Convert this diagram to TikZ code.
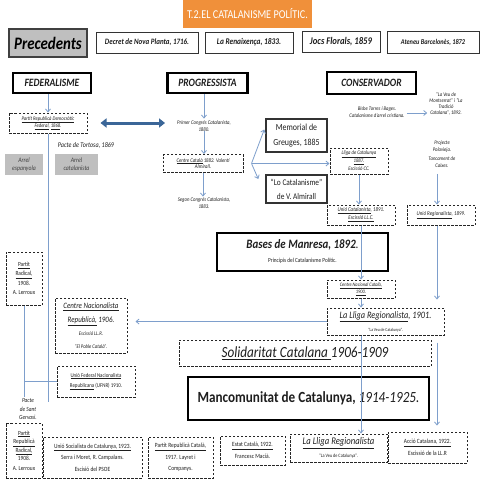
\documentclass[tikz,border=0pt]{standalone}
\usepackage{fontspec}
\setmainfont{Carlito}[FakeStretch=0.85]
\usetikzlibrary{arrows.meta,calc}
\definecolor{orng}{HTML}{F0903A}
\definecolor{arr}{HTML}{7E9FCC}
\definecolor{darr}{HTML}{3B6698}
\definecolor{gbox}{HTML}{BFBFBF}
\definecolor{tx}{HTML}{1E1E1E}
\newcommand{\fsz}[2]{\fontsize{#1}{#2}\selectfont}
\tikzset{
  base/.style={inner sep=0pt, align=center, text=tx},
  dbox/.style={base, draw=black!85, dash pattern=on 2.5pt off 1.5pt, line width=1pt, fill=white},
  tbox/.style={base, draw=black, line width=2.5pt, fill=white},
  sbox/.style={base, draw=black!80, line width=1pt, fill=white},
  mbox/.style={base, draw=black!80, line width=1.4pt, fill=white},
  graybox/.style={base, fill=gbox},
  conn/.style={draw=arr, line width=0.8pt, -{Straight Barb[length=3pt,width=5pt]}},
  plain/.style={draw=arr, line width=0.8pt},
  sz/.style n args={2}{minimum width=#1, minimum height=#2},
}
\begin{document}
\begin{tikzpicture}[x=1pt,y=-1pt]
\useasboundingbox[fill=white] (0,0) rectangle (480,480);

% top row
\node[base, fill=orng, text=white, sz={129pt}{28pt}, font=\fsz{12}{14}] (title) at (247.5,14) {T.2.EL CATALANISME POLÍTIC.};
\node[base, fill=gbox, draw=black!75, line width=1.5pt, text=black, sz={78pt}{28pt}, font=\fsz{17.5}{19}\bfseries\itshape] (prec) at (48,43) {Precedents};
\node[sbox, sz={102pt}{21pt}, font=\fsz{8.2}{9}\bfseries\itshape] (decret) at (147,42.5) {Decret de Nova Planta, 1716.};
\node[sbox, sz={88pt}{21pt}, font=\fsz{8.7}{10}\bfseries\itshape] (renaix) at (249,42.5) {La Renaixença, 1833.};
\node[sbox, sz={78pt}{21pt}, font=\fsz{10.2}{11}\bfseries\itshape] (jocs) at (341,41.5) {Jocs Florals, 1859};
\node[sbox, sz={92pt}{22pt}, font=\fsz{7.4}{8}\bfseries\itshape] (ateneu) at (433,42) {Ateneu Barcelonès, 1872};

% headers
\node[tbox, sz={78pt}{20pt}, font=\fsz{11.2}{12}\bfseries\itshape] (fed) at (52,83) {FEDERALISME};
\node[tbox, sz={80pt}{20pt}, font=\fsz{11.2}{12}\bfseries\itshape] (prog) at (207.5,83) {PROGRESSISTA};
\node[tbox, sz={89pt}{22pt}, font=\fsz{11.2}{12}\bfseries\itshape] (cons) at (371.5,83) {CONSERVADOR};

% federalisme column
\node[dbox, sz={78pt}{20pt}, font=\fsz{5.5}{6.5}\itshape] (prdf) at (48,123) {\underline{Partit Republicà Democràtic}\\\underline{Federal}, \underline{1868}.};
\node[base, font=\fsz{7.2}{8}\itshape] (tortosa) at (86,145) {Pacte de Tortosa, 1869};
\node[graybox, sz={38pt}{21pt}, font=\fsz{6.8}{8}\itshape, text=black!75] (arresp) at (24,164.5) {Arrel\\espanyola};
\node[graybox, sz={43pt}{21pt}, font=\fsz{6.8}{8}\itshape, text=black!75] (arrcat) at (76.5,164.5) {Arrel\\catalanista};

% progressista column
\node[base, font=\fsz{5.6}{6.5}\itshape] (primer) at (204,126) {Primer Congrés Catalanista,\\1880.};
\node[dbox, sz={80pt}{18pt}, font=\fsz{5.6}{6.5}\itshape] (centrecat) at (203,163.5) {\underline{Centre Català} 1882. Valentí\\Almirall.};
\node[base, font=\fsz{5.6}{6.5}\itshape] (segon) at (204,203) {Segon Congrés Catalanista,\\1883.};
\node[mbox, sz={61pt}{33pt}, font=\fsz{9.3}{13}] (memorial) at (296.5,135.5) {Memorial de\\[2pt]Greuges, 1885};
\node[mbox, sz={61pt}{28pt}, font=\fsz{8.7}{12}] (locat) at (296.5,189) {“Lo Catalanisme”\\[2pt]de V. Almirall};
\node[dbox, sz={58pt}{26pt}, font=\fsz{5.5}{7.5}\itshape] (lligacat) at (359,161) {\underline{Lliga de Catalunya}\\\underline{1887.}\\[1pt]Escissió CC.};

% conservador column
\node[base, font=\fsz{5.5}{6.5}\itshape] (bisbe) at (377,112) {Bisbe Torres i Bages.\\Catalanisme d'arrel cristiana.};
\node[base, font=\fsz{5.5}{6.2}\itshape] (laveu) at (446,104) {“La Veu de\\Montserrat” i “La\\Tradició\\Catalana”, 1892.};
\node[base, font=\fsz{5.5}{7.5}\itshape] (polav) at (442,154) {Projecte\\Polavieja.\\[1pt]Tancament de\\Caixes.};
\node[dbox, sz={68pt}{20pt}, font=\fsz{5.8}{7}\itshape] (unicat) at (361,215) {\underline{Unió Catalanista}, 1891.\\[1pt]\underline{Escissió LL.C.}};
\node[dbox, sz={68pt}{20pt}, font=\fsz{5.8}{7}\itshape] (unireg) at (441,215) {\underline{Unió Regionalista}, 1899.};

% middle
\node[tbox, sz={171pt}{38pt}] (bases) at (302.5,252) {{\fsz{12.8}{14}\bfseries\itshape Bases de Manresa, 1892}{\fsz{12.8}{14}\itshape .}\\[2pt]{\fsz{6.2}{7}Principis del Catalanisme Polític.}};
\node[dbox, sz={68pt}{18pt}, font=\fsz{5.2}{6}\itshape] (cnc) at (361,289) {\underline{Centre Nacional Català,}\\\underline{1900.}};
\node[dbox, sz={117pt}{27pt}] (lliga01) at (385.5,321.5) {{\fsz{9.8}{11}\itshape\underline{La Lliga Regionalista}, 1901.}\\[1pt]{\fsz{4.5}{6}“La Veu de Catalunya”.}};
\node[dbox, sz={252pt}{26pt}, font=\fsz{15.5}{17}\itshape] (solid) at (305,353) {\underline{Solidaritat Catalana }1906-1909};
\node[tbox, sz={241pt}{43pt}] (manc) at (308.5,398.5) {{\fsz{15.5}{17}\bfseries Mancomunitat de Catalunya, }{\fsz{15.5}{17}\itshape 1914-1925.}};

% left lower
\node[dbox, sz={36pt}{53pt}, font=\fsz{6.3}{7.5}] (prad1) at (24,278.5) {\underline{Partit}\\[2pt]\underline{Radical,}\\[2pt]1908.\\[2pt]A. Lerroux};
\node[dbox, sz={72pt}{55pt}] (cnr) at (91,325.5) {{\fsz{8.2}{10}\itshape\underline{Centre Nacionalista}}\\[2pt]{\fsz{8.2}{10}\itshape\underline{Republicà,} 1906.}\\[1pt]{\fsz{5.5}{7}\itshape Escissió LL.R.}\\[1pt]{\fsz{5.5}{7}\itshape “El Poble Català”.}};
\node[dbox, sz={78pt}{31pt}, font=\fsz{5.8}{7}] (ufnr) at (96,381.5) {\underline{Unió Federal Nacionalista}\\[3pt]\underline{Republicana} (UFNR) 1910.};
\node[base, font=\fsz{6.3}{7.5}\itshape] (pactesg) at (28,409) {Pacte\\[1pt]de Sant\\[1pt]Gervasi.};

% bottom row
\node[dbox, sz={36pt}{55pt}, font=\fsz{6.3}{7.5}] (prad2) at (24,450.5) {\underline{Partit}\\[1pt]\underline{Republicà}\\[1pt]\underline{Radical,}\\[1pt]1908.\\[2pt]A. Lerroux};
\node[dbox, sz={99pt}{41pt}, font=\fsz{6.4}{7.5}] (usc) at (92.5,457.5) {\underline{Unió Socialista de Catalunya, 1923.}\\[4pt]Serra i Moret, R. Campalans.\\[4pt]Escisió del PSOE};
\node[dbox, sz={65pt}{41pt}, font=\fsz{6.4}{7.5}] (prc) at (180.5,457.5) {\underline{Partit Republicà Català,}\\[4pt]1917. Layret i\\[4pt]Companys.};
\node[dbox, sz={65pt}{29pt}, font=\fsz{6.4}{7.5}] (estat) at (252.5,450.5) {\underline{Estat Català, 1922.}\\[4pt]Francesc Macià.};
\node[dbox, sz={97pt}{28pt}] (lliga2) at (338.5,448) {{\fsz{10.2}{12}\itshape\underline{La Lliga Regionalista}}\\[1pt]{\fsz{5}{6}“La Veu de Catalunya”.}};
\node[dbox, sz={79pt}{31pt}, font=\fsz{6.4}{7.5}] (accio) at (427.5,447.5) {\underline{Acció Catalana, 1922.}\\[4pt]Escissió de la LL.R};

% connectors
\draw[conn] (fed.south -| prdf.north) -- (prdf.north);
\draw[conn] (primer.north |- prog.south) -- ([yshift=2pt]primer.north);
\draw[conn] (primer.south) -- (primer.south |- centrecat.north);
\draw[conn] (centrecat.south) -- ([yshift=1pt]centrecat.south |- segon.north);
\draw[darr, line width=3pt, {Triangle[length=6pt,width=9pt]}-{Triangle[length=6pt,width=9pt]}, shorten <=13pt, shorten >=12pt] (prdf.east) -- (prdf.east -| primer.west);
\coordinate (fork) at ($(centrecat.east)+(8,0)$);
\draw[conn] (fork) -- ($(memorial.west)+(-1,-6)$);
\draw[conn] (fork) -- (fork -| lligacat.west);
\draw[conn] (fork) -- ($(locat.west)+(-7,-10)$);
\draw[conn] ($(bisbe.east)+(2,1)$) -- ($(bisbe.east -| laveu.west)+(-2,1)$);
\draw[conn] (lligacat.south) -- (lligacat.south |- unicat.north);
\coordinate (rx) at ($(unireg.north)+(-4,0)$);
\draw[conn] ($(rx |- polav.south)+(0,6)$) -- (rx);
\draw[conn] (unicat.south) -- (unicat.south |- cnc.north);
\draw[conn] (cnc.south) -- (cnc.south |- lliga01.north);
\draw[conn, shorten >=8pt] (rx |- unireg.south) -- (rx |- lliga01.north);
\draw[conn, shorten >=8pt] (lliga01.west) -- (lliga01.west -| cnr.east);
\draw[conn] (cnc.south |- lliga01.south) -- (cnc.south |- lliga2.north);
\draw[conn, shorten <=7pt, shorten >=6pt] (rx |- lliga01.south) -- (rx |- accio.north);
\coordinate (fedend) at (48,402);
\draw[plain] (prdf.south) -- (fedend);
\draw[plain] (prad1.south) -- ($(prad1.south |- pactesg.north)+(0,-1)$);
\draw[plain] (prad1.south |- ufnr.west) -- (ufnr.west);
\end{tikzpicture}
\end{document}
